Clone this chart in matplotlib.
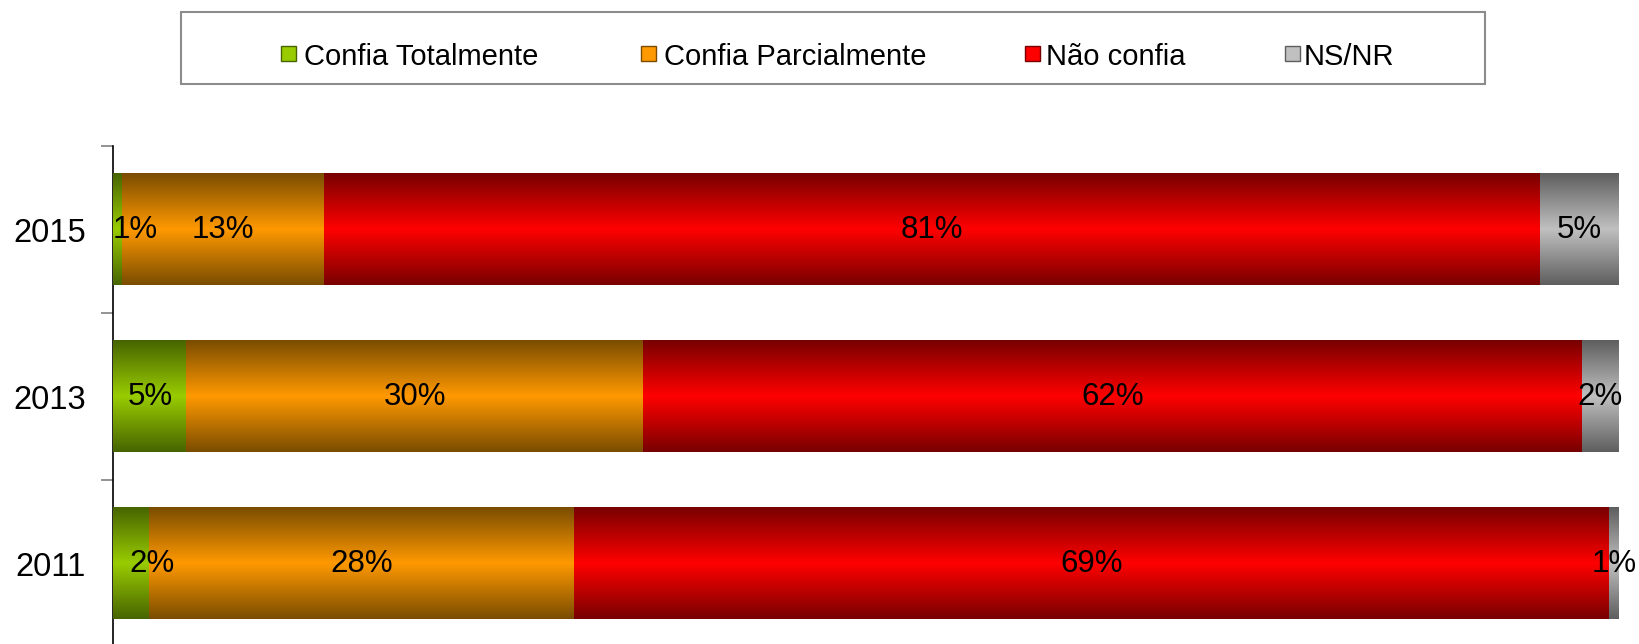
import numpy as np
import matplotlib
matplotlib.use("Agg")
import matplotlib.pyplot as plt
from matplotlib.colors import LinearSegmentedColormap
from matplotlib.patches import Rectangle

plt.rcParams['font.family'] = ['Liberation Sans', 'DejaVu Sans']

# ---- data ----
years = ["2011", "2013", "2015"]
series_names = ["Confia Totalmente", "Confia Parcialmente", "Não confia", "NS/NR"]
confia_totalmente = [2.4, 4.85, 0.55]
confia_parcialmente = [28.2, 30.35, 13.45]
nao_confia = [68.8, 62.4, 80.8]
ns_nr = [0.6, 2.4, 5.2]
label_totalmente = ["2%", "5%", "1%"]
label_parcialmente = ["28%", "30%", "13%"]
label_nao = ["69%", "62%", "81%"]
label_nsnr = ["1%", "2%", "5%"]

series = [confia_totalmente, confia_parcialmente, nao_confia, ns_nr]
labels = [label_totalmente, label_parcialmente, label_nao, label_nsnr]

# gradient colours (edge, middle)
grad_colors = [("#476400", "#99CC00"),
               ("#7A4C00", "#FF9900"),
               ("#780000", "#FF0000"),
               ("#5E5E5E", "#C0C0C0")]
# small nudges for labels of very thin first segments (in data units)
label_nudge = {(0, 0): 1.4, (0, 2): 1.2}

W, H = 1639, 644
fig = plt.figure(figsize=(W / 100, H / 100), dpi=100)
ax = fig.add_axes([113.3 / W, (H - 647.5) / H, 1505 / W, 501.5 / H])

ypos = np.arange(len(years))
bar_h = 0.665
grad = np.abs(np.linspace(-1, 1, 256))[:, None]  # 1 at edges, 0 in middle

left = np.zeros(len(years))
for si, vals in enumerate(series):
    edge, mid = grad_colors[si]
    cmap = LinearSegmentedColormap.from_list("g%d" % si, [mid, edge])
    bars = ax.barh(ypos, vals, left=left, height=bar_h, color=mid,
                   edgecolor="none", zorder=2)
    for bi, p in enumerate(bars.patches):
        x0, y0, w, h = p.get_x(), p.get_y(), p.get_width(), p.get_height()
        ax.imshow(grad, extent=(x0, x0 + w, y0, y0 + h), aspect="auto",
                  cmap=cmap, vmin=0, vmax=1, origin="lower",
                  interpolation="bilinear", zorder=3)
        cx = x0 + w / 2 + label_nudge.get((si, bi), 0)
        ax.text(cx, y0 + h / 2, labels[si][bi], ha="center", va="center",
                fontsize=22.5, color="black", zorder=5)
    left = left + np.array(vals)

ax.set_xlim(0, 100)
ax.set_ylim(-0.5, len(years) - 0.5)
ax.set_yticks(ypos)
ax.set_yticklabels(years, fontsize=23.5)
ax.set_yticks(np.arange(len(years) + 1) - 0.5, minor=True)
ax.tick_params(axis="y", which="major", length=0, pad=19.5)
ax.tick_params(axis="y", which="minor", length=8.6, width=1.2, color="#808080")
ax.set_xticks([])
for s in ["top", "right", "bottom"]:
    ax.spines[s].set_visible(False)
ax.spines["left"].set_color("black")
ax.spines["left"].set_linewidth(1.2)

# ---- legend (drawn in figure pixels) ----
def fx(px):
    return px / W

def fy(py):
    return 1 - py / H

fig.patches.append(Rectangle((fx(181), fy(84)), fx(1485) - fx(181), fy(12) - fy(84),
                             transform=fig.transFigure, facecolor="white",
                             edgecolor="#8C8C8C", linewidth=1.5))
marker_x = [281, 641, 1025, 1285]
text_x = [304, 664, 1046, 1304]
for i, name in enumerate(series_names):
    edge, mid = grad_colors[i]
    fig.patches.append(Rectangle((fx(marker_x[i]), fy(61)), 15 / W, 15 / H,
                                 transform=fig.transFigure, facecolor=mid,
                                 edgecolor=edge, linewidth=1.0))
    fig.text(fx(text_x[i]), fy(65), name, fontsize=21, ha="left", va="baseline")

fig.savefig("out.png", dpi=100, facecolor="white")
